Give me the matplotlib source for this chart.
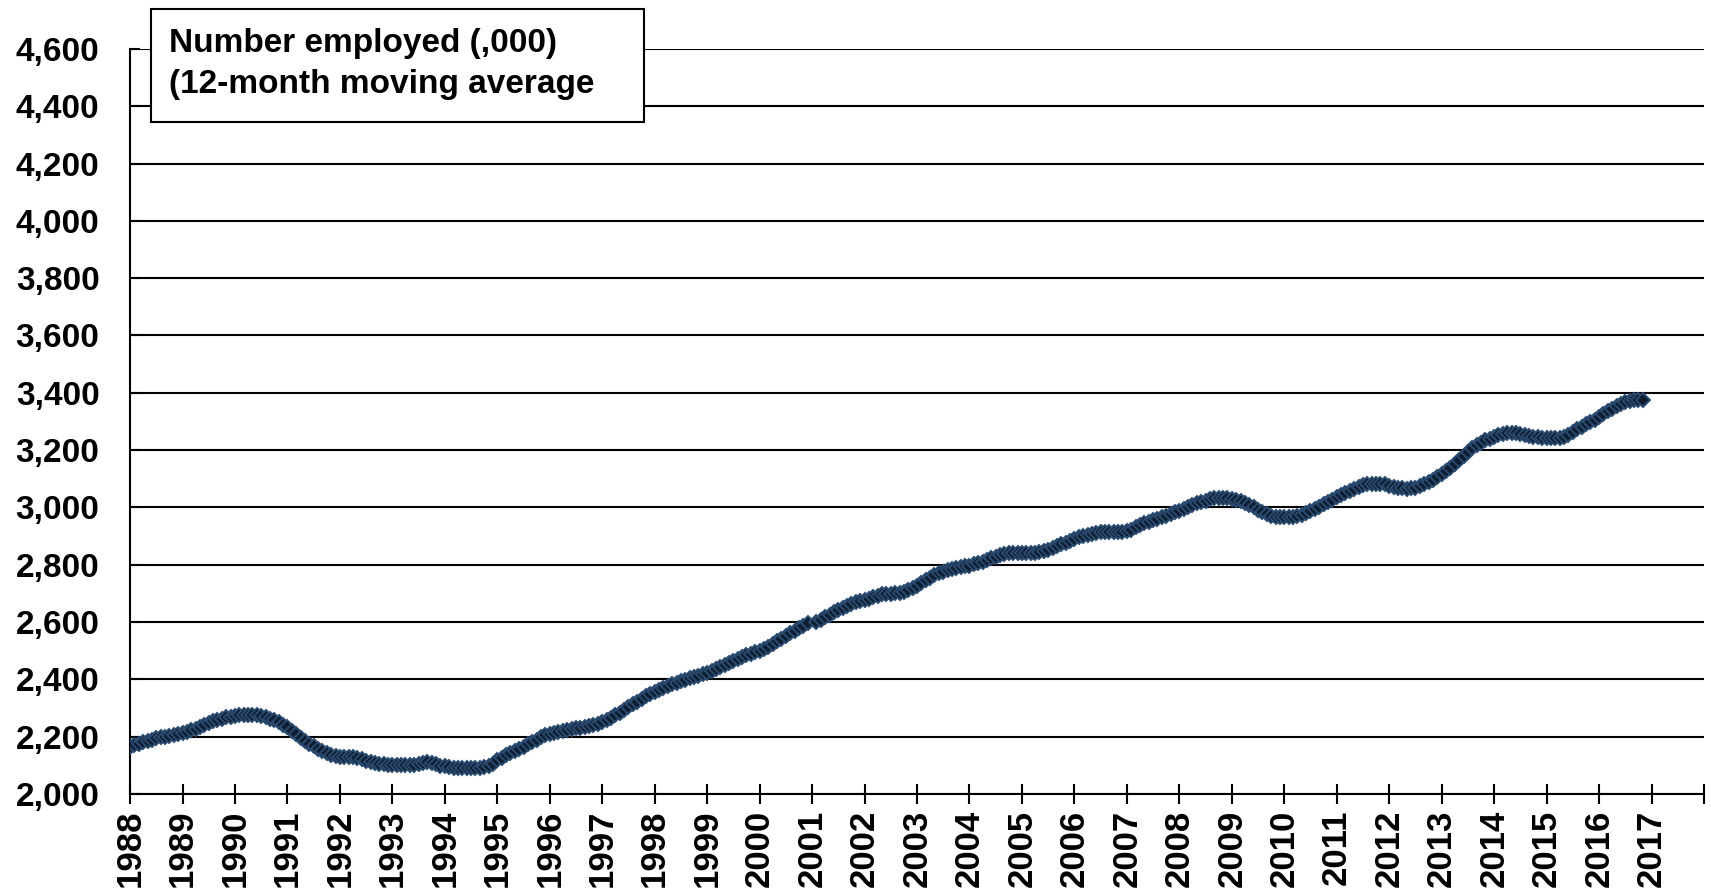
import numpy as np
import matplotlib
matplotlib.use('Agg')
import matplotlib.pyplot as plt
from matplotlib.patches import Rectangle
from matplotlib.ticker import FuncFormatter

plt.rcParams['font.family'] = ['Liberation Sans', 'DejaVu Sans']

# 12-month moving average, number employed ('000), monthly Jan 1988 - Nov 2016
nan = np.nan
v1988 = [2165, 2170, 2175, 2180, 2184, 2188, 2194, 2198, 2200, 2203, 2206, 2208]
v1989 = [2211, 2215, 2222, 2228, 2234, 2241, 2249, 2254, 2259, 2263, 2267, 2270]
v1990 = [2273, 2275, 2276, 2276, 2276, 2275, 2273, 2269, 2263, 2257, 2250, 2242]
v1991 = [2232, 2220, 2208, 2196, 2184, 2175, 2166, 2157, 2150, 2143, 2137, 2133]
v1992 = [2130, 2128, 2128, 2127, 2124, 2120, 2116, 2112, 2108, 2105, 2103, 2102]
v1993 = [2101, 2100, 2100, 2100, 2101, 2102, 2104, 2108, 2110, 2107, 2103, 2099]
v1994 = [2096, 2093, 2092, 2092, 2091, 2091, 2091, 2091, 2092, 2093, 2098, 2105]
v1995 = [2117, 2125, 2135, 2142, 2150, 2158, 2165, 2173, 2181, 2189, 2198, 2206]
v1996 = [2210, 2214, 2217, 2220, 2223, 2226, 2229, 2231, 2234, 2237, 2240, 2244]
v1997 = [2250, 2257, 2265, 2274, 2283, 2292, 2302, 2312, 2322, 2332, 2341, 2349]
v1998 = [2356, 2363, 2369, 2376, 2382, 2388, 2393, 2398, 2403, 2408, 2413, 2418]
v1999 = [2422, 2429, 2436, 2443, 2451, 2458, 2465, 2472, 2478, 2484, 2489, 2494]
v2000 = [2500, 2507, 2514, 2523, 2532, 2542, 2551, 2560, 2569, 2578, 2587, 2596]
v2001 = [nan, 2600, 2608, 2617, 2626, 2634, 2642, 2650, 2656, 2662, 2668, 2673]
v2002 = [2676, 2681, 2687, 2692, 2696, 2698, 2699, 2700, 2702, 2706, 2711, 2718]
v2003 = [2727, 2736, 2745, 2754, 2763, 2770, 2776, 2781, 2785, 2789, 2792, 2795]
v2004 = [2797, 2801, 2806, 2811, 2816, 2822, 2828, 2834, 2838, 2840, 2841, 2841]
v2005 = [2841, 2841, 2841, 2842, 2844, 2847, 2851, 2857, 2864, 2871, 2877, 2883]
v2006 = [2889, 2895, 2900, 2904, 2908, 2911, 2913, 2914, 2914, 2914, 2914, 2915]
v2007 = [2917, 2922, 2930, 2937, 2944, 2949, 2955, 2960, 2965, 2971, 2977, 2983]
v2008 = [2989, 2996, 3002, 3008, 3014, 3019, 3024, 3028, 3031, 3032, 3032, 3031]
v2009 = [3029, 3026, 3021, 3015, 3008, 3000, 2992, 2984, 2977, 2971, 2968, 2967]
v2010 = [2967, 2967, 2968, 2970, 2974, 2980, 2987, 2994, 3002, 3011, 3019, 3027]
v2011 = [3035, 3042, 3050, 3058, 3065, 3071, 3077, 3080, 3082, 3082, 3082, 3080]
v2012 = [3076, 3072, 3069, 3066, 3065, 3066, 3069, 3074, 3080, 3088, 3096, 3105]
v2013 = [3115, 3126, 3139, 3152, 3166, 3180, 3194, 3206, 3217, 3226, 3234, 3240]
v2014 = [3246, 3251, 3256, 3260, 3261, 3260, 3257, 3253, 3250, 3247, 3245, 3243]
v2015 = [3242, 3241, 3241, 3243, 3247, 3254, 3263, 3272, 3281, 3290, 3298, 3306]
v2016 = [3315, 3325, 3335, 3345, 3354, 3362, 3368, 3373, 3375, 3375, 3374]

employed = np.array(v1988 + v1989 + v1990 + v1991 + v1992 + v1993 + v1994 + v1995
                    + v1996 + v1997 + v1998 + v1999 + v2000 + v2001 + v2002 + v2003
                    + v2004 + v2005 + v2006 + v2007 + v2008 + v2009 + v2010 + v2011
                    + v2012 + v2013 + v2014 + v2015 + v2016, dtype=float)
months = np.arange(len(employed))
years = [str(y) for y in range(1988, 2018)]

fig = plt.figure(figsize=(17.11, 8.94), dpi=100)
ax = fig.add_axes([0.076, 0.112, 0.9199, 0.8332])

ax.plot(months, employed, linestyle='none', marker='D', markersize=7.5,
        markerfacecolor='#0f1d30', markeredgecolor='#2a4a70', markeredgewidth=1.4,
        zorder=3)

ax.set_xlim(0, 360)
ax.set_ylim(2000, 4600)
ax.set_yticks(np.arange(2000, 4601, 200))
ax.yaxis.set_major_formatter(FuncFormatter(lambda v, p: '{:,.0f}'.format(v)))
ax.set_xticks(np.arange(0, 361, 12))
ax.set_xticklabels(years + [''], rotation=90)

ax.grid(axis='y', color='black', linewidth=1.5, zorder=1)
ax.set_axisbelow(True)
for s in ['top', 'right']:
    ax.spines[s].set_visible(False)
for s in ['left', 'bottom']:
    ax.spines[s].set_linewidth(1.5)

ax.tick_params(axis='x', direction='inout', length=15, width=1.5, pad=4,
               labelsize=25)
ax.tick_params(axis='y', direction='in', length=7, width=1.5, pad=22,
               labelsize=24)
for lab in ax.get_xticklabels() + ax.get_yticklabels():
    lab.set_fontweight('bold')

# title box
fig.patches.append(Rectangle((0.0883, 0.8635), 0.2881, 0.1264,
                             transform=fig.transFigure, facecolor='white',
                             edgecolor='black', linewidth=1.5, zorder=5))
fig.text(0.0988, 0.9508, 'Number employed (,000)', fontsize=24,
         fontweight='bold', va='center', ha='left', zorder=6)
fig.text(0.0988, 0.906, '(12-month moving average', fontsize=24,
         fontweight='bold', va='center', ha='left', zorder=6)

fig.savefig('out.png', dpi=100)
